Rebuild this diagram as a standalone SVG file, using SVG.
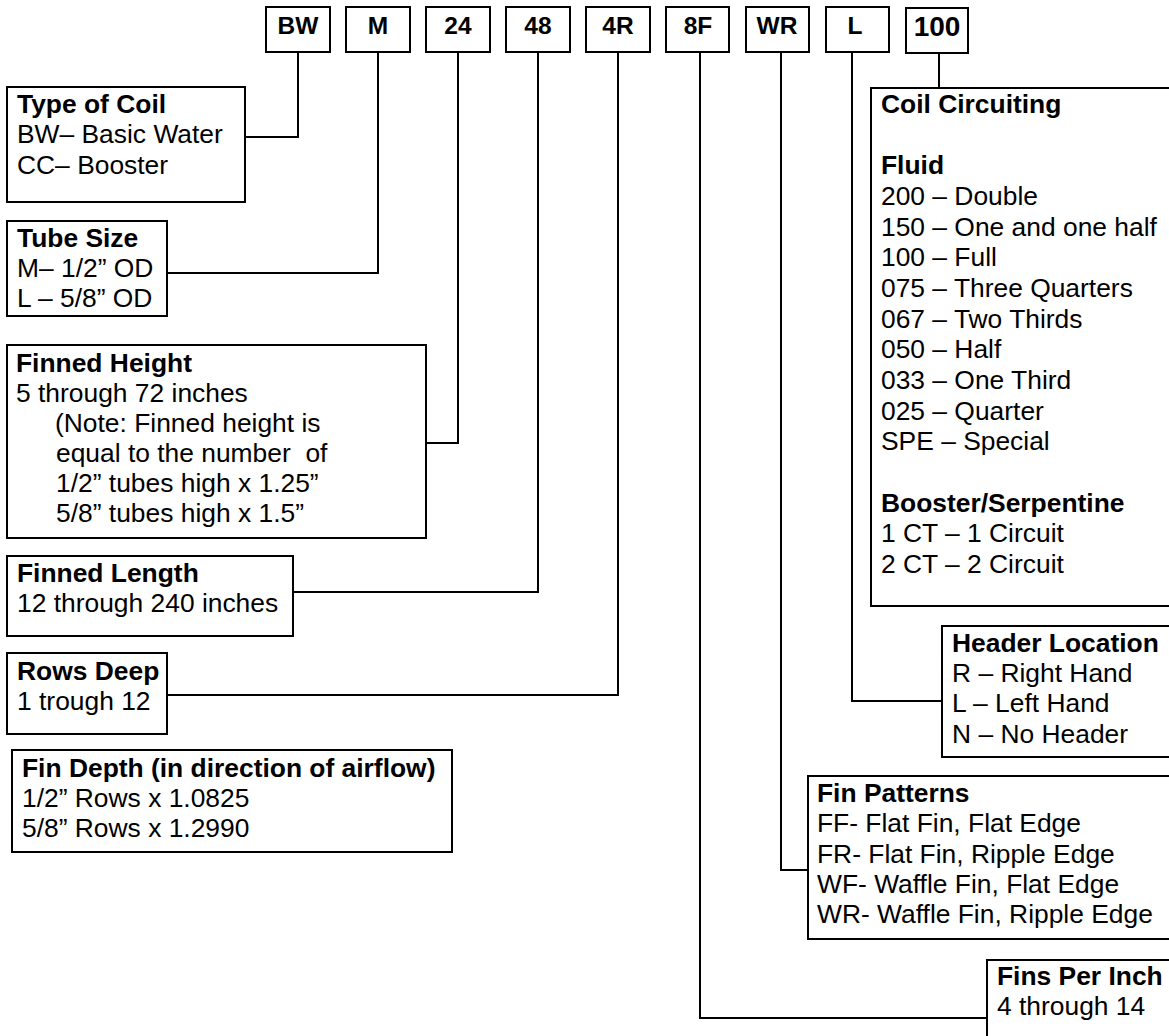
<svg xmlns="http://www.w3.org/2000/svg" width="1169" height="1036" viewBox="0 0 1169 1036">
<style>
rect{fill:#fff;stroke:#000;stroke-width:2}
.c path{fill:none;stroke:#000;stroke-width:2}
text{font-family:"Liberation Sans",Arial,sans-serif;font-size:26.4px;fill:#000}
.b{font-weight:bold}
.k{font-weight:bold;font-size:24.5px;text-anchor:middle}
</style>
<rect x="0" y="0" width="1169" height="1036" style="stroke:none"/>
<g class="c" id="connectors">
<path d="M298 52V137H245"/>
<path d="M378 52V273H167"/>
<path d="M458 52V443H426"/>
<path d="M538 52V592H293"/>
<path d="M618 52V695H167"/>
<path d="M700 52V1018H987"/>
<path d="M781 52V870H808"/>
<path d="M852 52V701H942"/>
<path d="M939 53V88"/>
</g>
<g id="code-BW"><rect x="266" y="7" width="64" height="45"/><text class="k" x="298" y="34">BW</text></g>
<g id="code-M"><rect x="346" y="7" width="64" height="45"/><text class="k" x="378" y="34">M</text></g>
<g id="code-24"><rect x="426" y="7" width="64" height="45"/><text class="k" x="458" y="34">24</text></g>
<g id="code-48"><rect x="506" y="7" width="64" height="45"/><text class="k" x="538" y="34">48</text></g>
<g id="code-4R"><rect x="586" y="7" width="64" height="45"/><text class="k" x="618" y="34">4R</text></g>
<g id="code-8F"><rect x="666" y="7" width="63" height="45"/><text class="k" x="698" y="34">8F</text></g>
<g id="code-WR"><rect x="746" y="7" width="63" height="45"/><text class="k" x="777" y="34">WR</text></g>
<g id="code-L"><rect x="826" y="7" width="63" height="45"/><text class="k" x="855" y="34">L</text></g>
<g id="code-100"><rect x="906" y="8" width="62" height="45"/><text class="k" x="937" y="36" style="font-size:28px">100</text></g>

<g id="type-of-coil"><rect x="7" y="87" width="238" height="115"/>
<text x="17" y="113" class="b">Type of Coil</text>
<text x="17" y="143">BW– Basic Water</text>
<text x="17" y="174">CC– Booster</text></g>

<g id="tube-size"><rect x="7" y="221" width="160" height="95"/>
<text x="17" y="247" class="b">Tube Size</text>
<text x="17" y="277">M– 1/2” OD</text>
<text x="17" y="307">L – 5/8” OD</text></g>

<g id="finned-height"><rect x="7" y="345" width="419" height="193"/>
<text x="16" y="372" class="b">Finned Height</text>
<text x="16" y="402">5 through 72 inches</text>
<text x="55" y="432">(Note: Finned height is</text>
<text x="56" y="462" xml:space="preserve">equal to the number  of</text>
<text x="56" y="492">1/2” tubes high x 1.25”</text>
<text x="56" y="522">5/8” tubes high x 1.5”</text></g>

<g id="finned-length"><rect x="7" y="556" width="286" height="80"/>
<text x="17" y="582" class="b">Finned Length</text>
<text x="17" y="612">12 through 240 inches</text></g>

<g id="rows-deep"><rect x="7" y="653" width="160" height="81"/>
<text x="17" y="680" class="b">Rows Deep</text>
<text x="17" y="710">1 trough 12</text></g>

<g id="fin-depth"><rect x="12" y="750" width="440" height="102"/>
<text x="22" y="777" class="b">Fin Depth (in direction of airflow)</text>
<text x="22" y="807">1/2” Rows x 1.0825</text>
<text x="22" y="837">5/8” Rows x 1.2990</text></g>

<g id="coil-circuiting"><rect x="871" y="88" width="310" height="518"/>
<text x="881" y="113" class="b">Coil Circuiting</text>
<text x="881" y="174" class="b">Fluid</text>
<text x="881" y="205">200 – Double</text>
<text x="881" y="235.6">150 – One and one half</text>
<text x="881" y="266.3">100 – Full</text>
<text x="881" y="297">075 – Three Quarters</text>
<text x="881" y="327.6">067 – Two Thirds</text>
<text x="881" y="358.2">050 – Half</text>
<text x="881" y="389">033 – One Third</text>
<text x="881" y="419.5">025 – Quarter</text>
<text x="881" y="450.2">SPE – Special</text>
<text x="881" y="511.5" class="b">Booster/Serpentine</text>
<text x="881" y="542">1 CT – 1 Circuit</text>
<text x="881" y="572.8">2 CT – 2 Circuit</text></g>

<g id="header-location"><rect x="942" y="626" width="240" height="131"/>
<text x="952" y="652" class="b">Header Location</text>
<text x="952" y="682">R – Right Hand</text>
<text x="952" y="712">L – Left Hand</text>
<text x="952" y="743">N – No Header</text></g>

<g id="fin-patterns"><rect x="808" y="776" width="374" height="163"/>
<text x="817" y="802" class="b">Fin Patterns</text>
<text x="817" y="832">FF- Flat Fin, Flat Edge</text>
<text x="817" y="863">FR- Flat Fin, Ripple Edge</text>
<text x="817" y="893">WF- Waffle Fin, Flat Edge</text>
<text x="817" y="923">WR- Waffle Fin, Ripple Edge</text></g>

<g id="fins-per-inch"><rect x="987" y="960" width="195" height="90"/>
<text x="997" y="985" class="b">Fins Per Inch</text>
<text x="997" y="1015">4 through 14</text></g>
</svg>
